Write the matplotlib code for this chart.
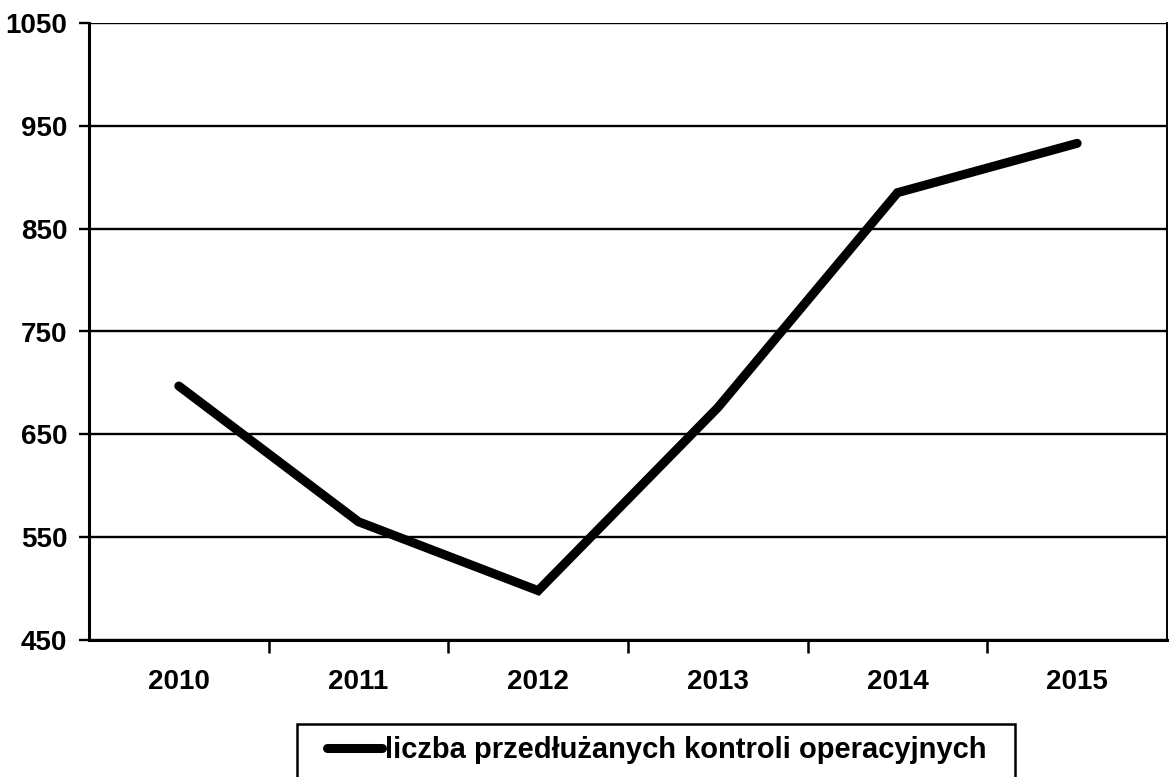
import matplotlib
matplotlib.use("Agg")
import matplotlib.pyplot as plt
from matplotlib.patches import Rectangle

years = ["2010", "2011", "2012", "2013", "2014", "2015"]
values = [697, 565, 498, 676, 885, 933]
y_ticks = [450, 550, 650, 750, 850, 950, 1050]
series_label = "liczba przedłużanych kontroli operacyjnych"

plt.rcParams['font.family'] = ['Liberation Sans', 'DejaVu Sans']
plt.rcParams['font.weight'] = 'bold'

W, H = 1169, 777
fig = plt.figure(figsize=(W / 100, H / 100), dpi=100)
ax = fig.add_axes([89 / W, 1 - 640 / H, (1167 - 89) / W, (640 - 23) / H])

x = list(range(len(years)))
ax.plot(x, values, color='black', linewidth=6.5, solid_capstyle='round',
        solid_joinstyle='miter', label=series_label, zorder=3)

ax.set_xlim(-0.5, len(years) - 0.5)
ax.set_ylim(450, 1050)
ax.set_yticks(y_ticks)
ax.set_yticklabels([str(v) for v in y_ticks], fontsize=20, fontweight='bold')
ax.set_xticks(x)
ax.set_xticklabels(years, fontsize=20, fontweight='bold')
ax.set_xticks([i + 0.5 for i in range(len(years) - 1)], minor=True)

ax.yaxis.grid(True, color='black', linewidth=1.7)
ax.set_axisbelow(True)

for s in ['left', 'bottom']:
    ax.spines[s].set_linewidth(2.2)
    ax.spines[s].set_color('black')
ax.spines['right'].set_linewidth(1.4)
ax.spines['top'].set_visible(False)

ax.tick_params(axis='y', which='major', length=7.5, width=1.7, pad=8)
ax.tick_params(axis='x', which='major', length=0, pad=21)
ax.tick_params(axis='x', which='minor', length=9, width=1.8)

# legend content (frame drawn separately)
leg = fig.legend(loc='center left', bbox_to_anchor=(327 / W, 1 - 750 / H),
                 bbox_transform=fig.transFigure, fontsize=21, frameon=False,
                 handlelength=1.9, handletextpad=0.1, borderpad=0,
                 borderaxespad=0)
for t in leg.get_texts():
    t.set_fontweight('bold')
for h in leg.get_lines():
    h.set_linewidth(6.5)

frame = Rectangle((297 / W, -0.05), (1015 - 297) / W, 1 - 724 / H + 0.05,
                  transform=fig.transFigure, fill=False, edgecolor='black',
                  linewidth=1.8)
fig.add_artist(frame)

fig.savefig("out.png", dpi=100)
